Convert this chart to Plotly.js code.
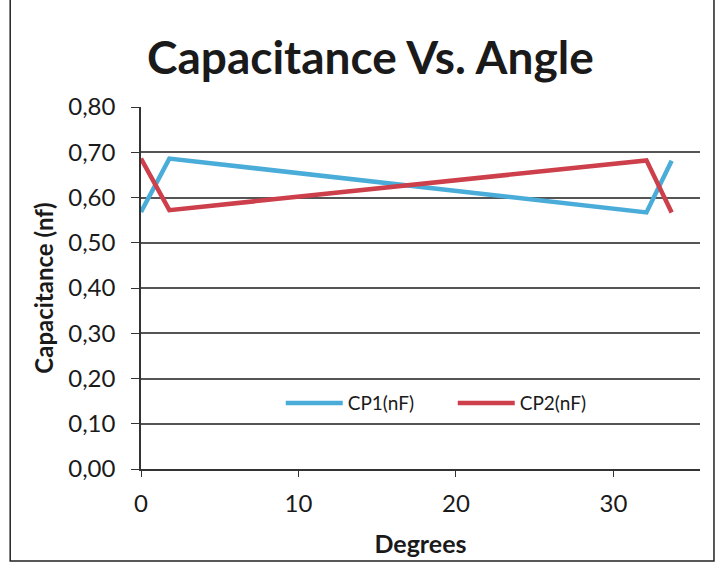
<!DOCTYPE html>
<html>
<head>
<meta charset="utf-8">
<script src="https://cdn.plot.ly/plotly-3.0.1.min.js"></script>
<style>html,body{margin:0;padding:0;background:#fff;}#chart{width:722px;height:565px;}</style>
</head>
<body>
<div id="chart"></div>
<script>
const cp1Degrees = [0, 1.8, 32.1, 33.7];
const cp1Values = [0.568, 0.686, 0.567, 0.681];
const cp2Degrees = [0, 1.8, 32.1, 33.7];
const cp2Values = [0.686, 0.572, 0.682, 0.567];
const yTicks = [0, 0.1, 0.2, 0.3, 0.4, 0.5, 0.6, 0.7, 0.8];
const xTicks = [0, 10, 20, 30];

const FONT = 'Lato, "Open Sans", sans-serif';

const traces = [
  {x: cp1Degrees, y: cp1Values, name: 'CP1(nF)', mode: 'lines', line: {color: '#4AACD8', width: 4.5}},
  {x: cp2Degrees, y: cp2Values, name: 'CP2(nF)', mode: 'lines', line: {color: '#CC3F4B', width: 4.5}}
];

const layout = {
  width: 722, height: 565,
  margin: {l: 141, r: 22, t: 107, b: 96},
  paper_bgcolor: '#fff', plot_bgcolor: '#fff',
  separators: ',.',
  font: {family: FONT, color: '#1a1a1a'},
  title: {text: '<b>Capacitance Vs. Angle</b>', font: {size: 46, family: FONT, color: '#1a1a1a'}, x: 0.513, xanchor: 'center', y: 0.897, yanchor: 'middle'},
  xaxis: {
    range: [0, 35.5], tickvals: xTicks, ticks: 'outside', ticklen: 6, tickcolor: '#333',
    showgrid: false, zeroline: false, showline: true, linecolor: '#333', linewidth: 1.5,
    tickfont: {size: 24, family: FONT}, ticklabelstandoff: 6,
    title: {text: '<b>Degrees</b>', font: {size: 25, family: FONT}, standoff: 20}
  },
  yaxis: {
    range: [0, 0.8], tickvals: yTicks, tickformat: '.2f', ticks: 'outside', ticklen: 8, tickcolor: '#333',
    showgrid: true, gridcolor: '#555', gridwidth: 1.5, zeroline: false, showline: true, linecolor: '#333', linewidth: 1.5,
    tickfont: {size: 24, family: FONT}, ticklabelstandoff: 11,
    title: {text: '<b>Capacitance (nf)</b>', font: {size: 24, family: FONT}, standoff: 8}
  },
  showlegend: true,
  legend: {orientation: 'h', x: 0.25, xanchor: 'left', y: 0.182, yanchor: 'middle', bgcolor: '#fff', font: {size: 19, family: FONT}, itemwidth: 57, entrywidth: 100, entrywidthmode: 'pixels'},
  shapes: [
    {type: 'rect', xref: 'paper', yref: 'paper', x0: -0.234, x1: 1.025, y0: -0.254, y1: 1.31, line: {color: '#222', width: 1.5}, fillcolor: 'rgba(0,0,0,0)', layer: 'below'}
  ]
};

Plotly.newPlot('chart', traces, layout, {displayModeBar: false});
</script>
</body>
</html>
